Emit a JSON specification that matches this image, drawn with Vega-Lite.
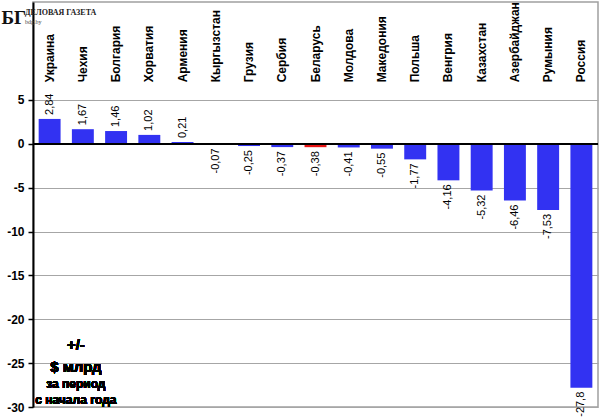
{
  "$schema": "https://vega.github.io/schema/vega-lite/v6.json",
  "width": 565,
  "height": 405,
  "autosize": {"type": "none"},
  "padding": {"left": 33, "top": 2, "right": 2, "bottom": 10},
  "background": "white",
  "config": {
    "view": {"stroke": "#a0a0a0", "strokeWidth": 1.5},
    "locale": {
      "number": {"decimal": ",", "thousands": " ", "grouping": [3], "currency": ["", " $"], "minus": "-"}
    },
    "font": "Liberation Sans"
  },
  "title": {
    "text": "ДЕЛОВАЯ ГАЗЕТА",
    "subtitle": "bdg.by",
    "anchor": "start",
    "frame": "bounds",
    "font": "Liberation Serif",
    "fontSize": 8,
    "fontWeight": "bold",
    "color": "#222222",
    "subtitleFont": "Liberation Serif",
    "subtitleFontSize": 6,
    "subtitleColor": "#444444",
    "subtitlePadding": 2,
    "offset": 0,
    "dx": 24,
    "dy": 23
  },
  "data": {
    "values": [
      {"country": "Украина", "value": 2.84, "group": "other"},
      {"country": "Чехия", "value": 1.67, "group": "other"},
      {"country": "Болгария", "value": 1.46, "group": "other"},
      {"country": "Хорватия", "value": 1.02, "group": "other"},
      {"country": "Армения", "value": 0.21, "group": "other"},
      {"country": "Кыргызстан", "value": -0.07, "group": "other"},
      {"country": "Грузия", "value": -0.25, "group": "other"},
      {"country": "Сербия", "value": -0.37, "group": "other"},
      {"country": "Беларусь", "value": -0.38, "group": "Беларусь"},
      {"country": "Молдова", "value": -0.41, "group": "other"},
      {"country": "Македония", "value": -0.55, "group": "other"},
      {"country": "Польша", "value": -1.77, "group": "other"},
      {"country": "Венгрия", "value": -4.16, "group": "other"},
      {"country": "Казахстан", "value": -5.32, "group": "other"},
      {"country": "Азербайджан", "value": -6.46, "group": "other"},
      {"country": "Румыния", "value": -7.53, "group": "other"},
      {"country": "Россия", "value": -27.8, "group": "other"}
    ]
  },
  "encoding": {
    "x": {
      "field": "country",
      "type": "nominal",
      "sort": null,
      "scale": {"paddingInner": 0.34, "paddingOuter": 0.17},
      "axis": null
    }
  },
  "layer": [
    {
      "mark": {"type": "bar"},
      "encoding": {
        "y": {
          "field": "value",
          "type": "quantitative",
          "scale": {"domain": [-30, 16.17], "nice": false, "zero": false},
          "axis": {
            "values": [5, 0, -5, -10, -15, -20, -25, -30],
            "title": "БГ",
            "titleAngle": 0,
            "titleX": -32,
            "titleY": 21,
            "titleAlign": "left",
            "titleBaseline": "alphabetic",
            "titleFont": "Liberation Serif",
            "titleFontSize": 19,
            "titleFontWeight": "bold",
            "titleColor": "#111111",
            "grid": true,
            "gridColor": "#a6a6a6",
            "gridWidth": 1.2,
            "domainColor": "black",
            "domainWidth": 2,
            "tickColor": "black",
            "tickSize": 5,
            "tickWidth": 1.5,
            "labelFont": "Liberation Sans",
            "labelFontSize": 12,
            "labelFontWeight": "bold",
            "labelColor": "black",
            "labelPadding": 4
          }
        },
        "color": {
          "field": "group",
          "type": "nominal",
          "scale": {"domain": ["other", "Беларусь"], "range": ["#3232f2", "#e81414"]},
          "legend": null
        }
      }
    },
    {
      "mark": {"type": "rule", "color": "black", "strokeWidth": 1.5},
      "encoding": {"y": {"datum": 0}, "x": null}
    },
    {
      "mark": {"type": "text", "angle": 270, "align": "left", "baseline": "middle", "dx": 1, "font": "Liberation Sans", "fontSize": 12, "fontWeight": "bold", "color": "black"},
      "encoding": {
        "y": {"datum": 6.9},
        "text": {"field": "country"}
      }
    },
    {
      "transform": [{"filter": "datum.value >= 0"}],
      "mark": {"type": "text", "angle": 270, "align": "left", "baseline": "middle", "dx": 4, "fontSize": 11, "color": "black"},
      "encoding": {
        "y": {"field": "value", "type": "quantitative"},
        "text": {"field": "value", "type": "quantitative", "format": ".3~r"}
      }
    },
    {
      "transform": [{"filter": "datum.value < 0"}],
      "mark": {"type": "text", "angle": 270, "align": "right", "baseline": "middle", "dx": -4, "fontSize": 11, "color": "black"},
      "encoding": {
        "y": {"field": "value", "type": "quantitative"},
        "text": {"field": "value", "type": "quantitative", "format": ".3~r"}
      }
    },
    {
      "mark": {"type": "text", "align": "center", "baseline": "middle", "dx": -7, "fontSize": 15, "fontWeight": "bold", "color": "black"},
      "encoding": {"x": {"datum": "Чехия"}, "y": {"datum": -22.9}, "text": {"value": "+/-"}}
    },
    {
      "mark": {"type": "text", "align": "center", "baseline": "middle", "dx": -7, "fontSize": 15, "fontWeight": "bold", "color": "black"},
      "encoding": {"x": {"datum": "Чехия"}, "y": {"datum": -25.4}, "text": {"value": "$ млрд"}}
    },
    {
      "mark": {"type": "text", "align": "center", "baseline": "middle", "dx": -7, "fontSize": 12, "fontWeight": "bold", "color": "black"},
      "encoding": {"x": {"datum": "Чехия"}, "y": {"datum": -27.4}, "text": {"value": "за период"}}
    },
    {
      "mark": {"type": "text", "align": "center", "baseline": "middle", "dx": -7, "fontSize": 12, "fontWeight": "bold", "color": "black"},
      "encoding": {"x": {"datum": "Чехия"}, "y": {"datum": -29.2}, "text": {"value": "с начала  года"}}
    }
  ]
}
